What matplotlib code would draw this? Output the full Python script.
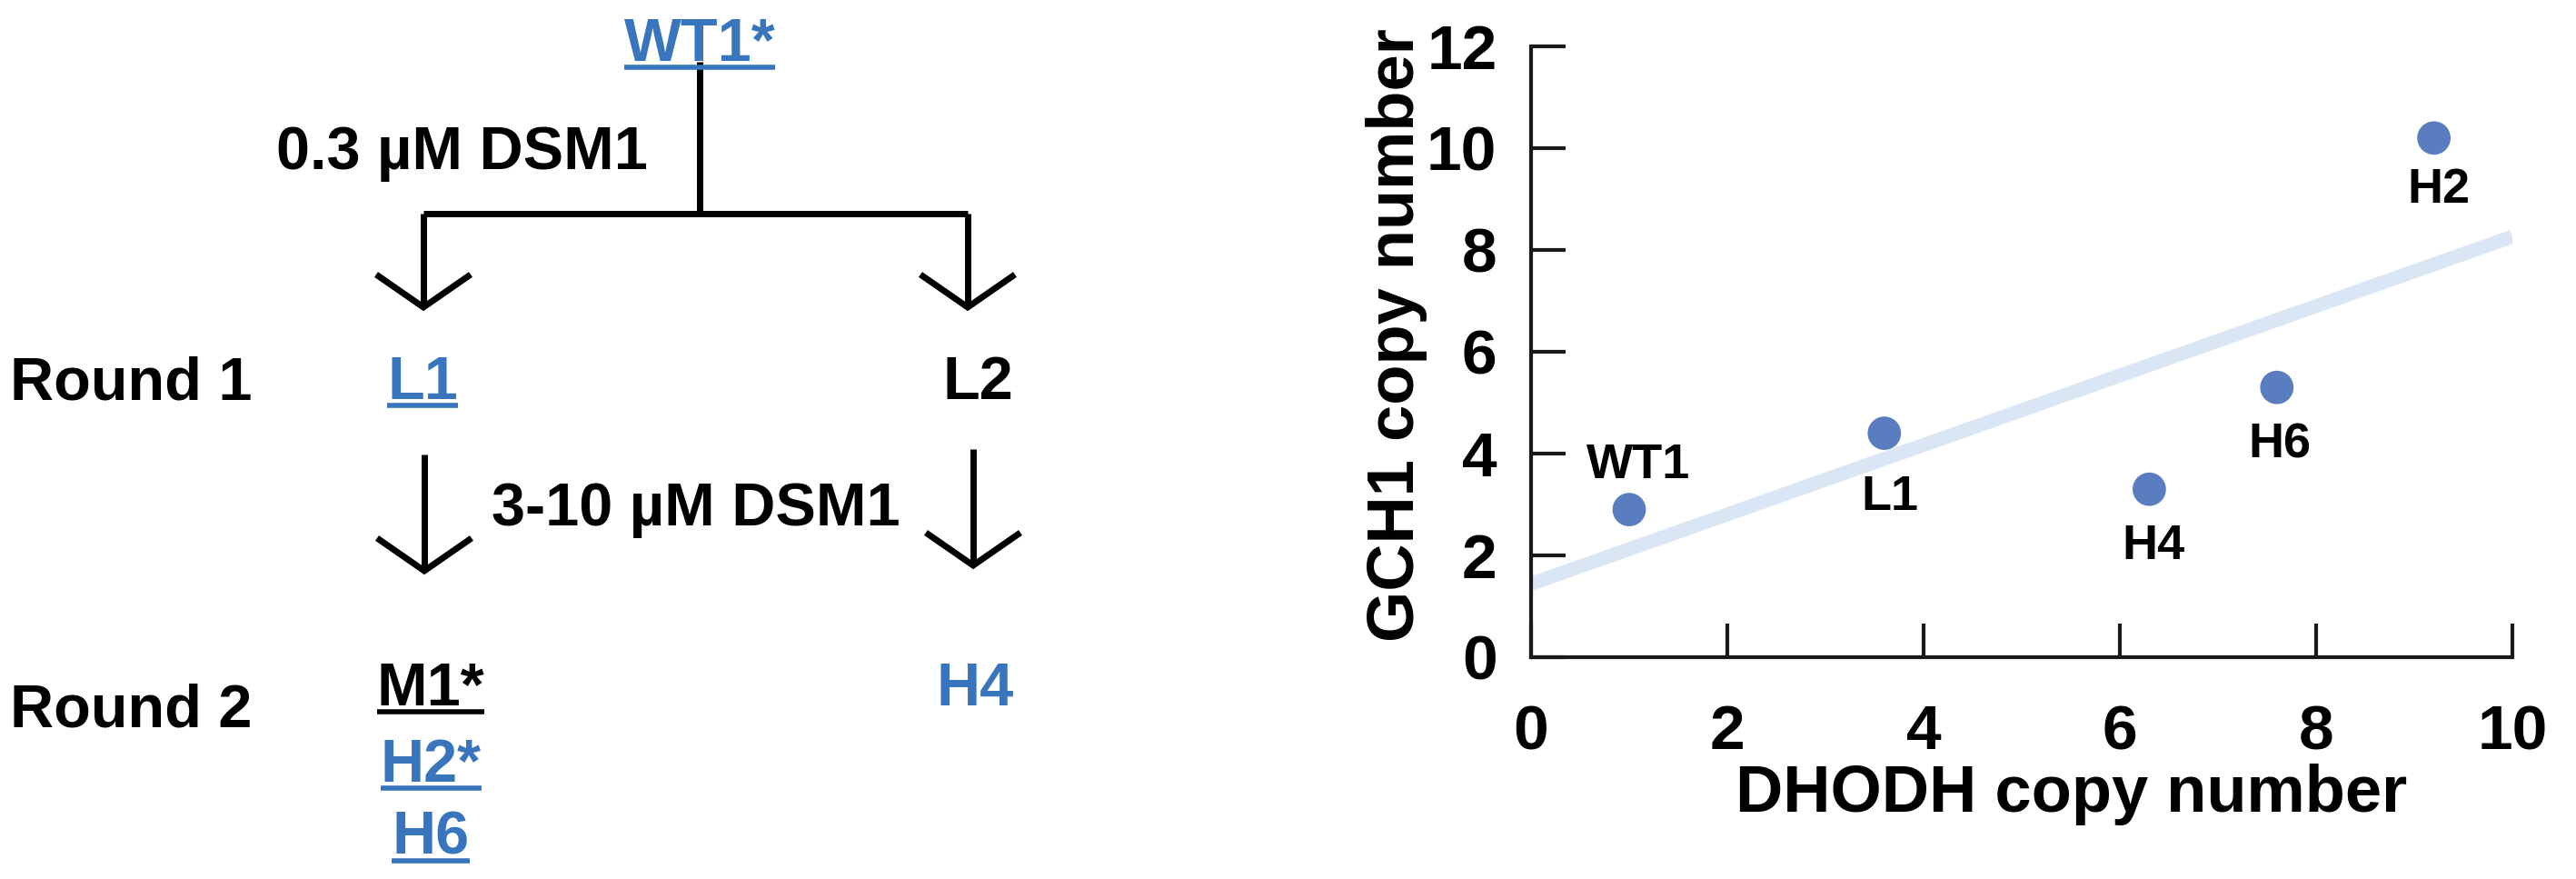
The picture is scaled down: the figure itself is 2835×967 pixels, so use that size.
import numpy as np
import matplotlib.pyplot as plt

plt.rcParams['font.family'] = ['Liberation Sans', 'DejaVu Sans']
plt.rcParams['font.weight'] = 'bold'
plt.rcParams['axes.labelweight'] = 'bold'

# copy numbers
strains = ['WT1', 'L1', 'H4', 'H6', 'H2']
dhodh = [1.0, 3.6, 6.3, 7.6, 9.2]
gch1 = [2.9, 4.4, 3.3, 5.3, 10.2]

# selection scheme
parent = 'WT1*'
doses = ['0.3 µM DSM1', '3-10 µM DSM1']
rounds = ['Round 1', 'Round 2']
round1 = ['L1', 'L2']
round2_left = ['M1*', 'H2*', 'H6']
round2_right = ['H4']
blue_names = ['WT1*', 'L1', 'H2*', 'H6', 'H4']
underlined = ['WT1*', 'L1', 'M1*', 'H2*', 'H6']

W, H = 2835, 967
BLUE = '#3875bd'
fig = plt.figure(figsize=(W / 100, H / 100), dpi=100)

# ---- left: scheme, drawn in pixel coordinates
ax0 = fig.add_axes([0, 0, 1, 1])
ax0.set_xlim(0, W)
ax0.set_ylim(H, 0)
ax0.axis('off')

lw = 5
kw = dict(color='black', lw=lw, solid_capstyle='butt', solid_joinstyle='miter')


def arrow(x, y0, y1):
    ax0.plot([x, x], [y0, y1], **kw)
    ax0.plot([x - 52, x, x + 52], [y1 - 36, y1, y1 - 36], **kw)


ax0.plot([770, 770], [68, 235], **kw)
ax0.plot([466, 1065], [235, 235], **kw)
arrow(466, 235, 338)
arrow(1065, 235, 338)
arrow(467, 500, 628)
arrow(1071, 494, 622)

texts = []


def label(s, x, y, ha='center'):
    c = BLUE if s in blue_names else 'black'
    t = ax0.text(x, y, s, ha=ha, va='baseline', fontsize=48, color=c)
    if s in underlined:
        texts.append((t, y, c))
    return t


label(parent, 770, 67)
label(doses[0], 713, 186, ha='right')
label(doses[1], 766, 578)
label(rounds[0], 11, 439, ha='left')
label(rounds[1], 11, 799, ha='left')
label(round1[0], 465, 439)
label(round1[1], 1076, 439)
for s, yb in zip(round2_left, [776, 860, 940]):
    label(s, 474, yb)
label(round2_right[0], 1073, 776)

fig.canvas.draw()
r = fig.canvas.get_renderer()
inv = ax0.transData.inverted()
for t, yb, c in texts:
    bb = t.get_window_extent(r)
    (xa, _), (xb, _) = inv.transform([(bb.x0, bb.y0), (bb.x1, bb.y1)])
    ax0.plot([xa, xb], [yb + 7, yb + 7], color=c, lw=4, solid_capstyle='butt')

# ---- right: scatter
ax = fig.add_axes([1685 / W, 1 - 723 / H, 1080 / W, 672 / H])
k, b = np.polyfit(dhodh, gch1, 1)
xs = np.array([0, 10])
ax.plot(xs, k * xs + b, color='#dbe6f5', lw=11, solid_capstyle='butt', zorder=1)
ax.scatter(dhodh, gch1, s=700, color='#5a7dbf', edgecolors='none', zorder=3, clip_on=False)

offsets = [(10, 35), (6, -84), (5, -77), (3, -77), (5, -71)]
for name, x, y, (dx, dy) in zip(strains, dhodh, gch1, offsets):
    ax.annotate(name, (x, y), xytext=(dx, dy), textcoords='offset pixels',
                ha='center', va='baseline', fontsize=39)

ax.set_xlim(0, 10)
ax.set_ylim(0, 12)
ax.set_xticks(range(0, 11, 2))
ax.set_yticks(range(0, 13, 2))
for sp in ['top', 'right']:
    ax.spines[sp].set_visible(False)
for sp in ['left', 'bottom']:
    ax.spines[sp].set_linewidth(3)
    ax.spines[sp].set_color('#1a1a1a')
ax.tick_params(direction='in', length=27, width=3, color='#1a1a1a', labelsize=50)
ax.tick_params(axis='x', pad=37)
ax.tick_params(axis='y', pad=27)
ax.set_xlabel('DHODH copy number', fontsize=52)
ax.set_ylabel('GCH1 copy number', fontsize=52)
ax.xaxis.set_label_coords(0.551, -0.174)
ax.yaxis.set_label_coords(-0.106, 0.527)

fig.savefig('out.png', dpi=100)
